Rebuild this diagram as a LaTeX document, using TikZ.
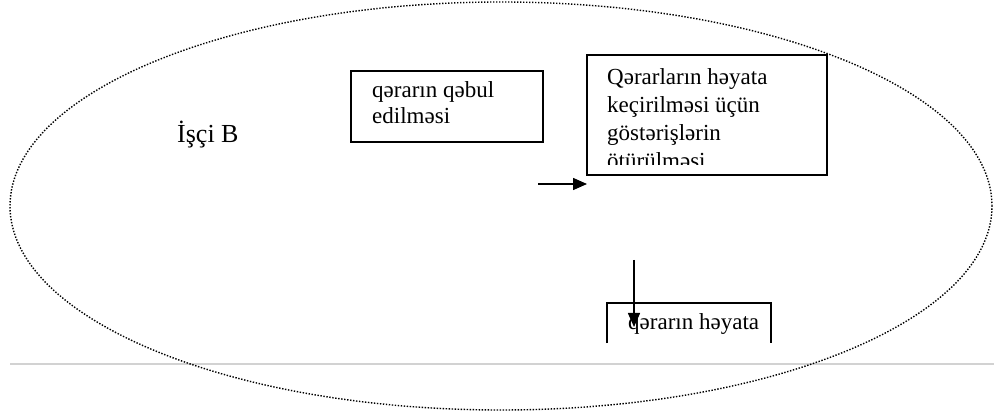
\documentclass[tikz,border=0pt]{standalone}
\usepackage{fontspec}
\setmainfont{Liberation Serif}
\usetikzlibrary{arrows.meta,shapes.geometric}
\begin{document}
\begin{tikzpicture}[x=1pt,y=-1pt,
  boxline/.style={draw=black,line width=1.5pt,inner sep=0pt},
  txt/.style={anchor=base west,inner sep=0pt,font=\fontsize{23}{27}\selectfont},
  arr/.style={line width=1.5pt,-{Triangle[length=14pt,width=12pt]}},
  dots/.style={draw=black,line width=1.4pt,dash pattern=on 1.4pt off 1.6pt}]
\useasboundingbox (0,0) rectangle (994,414);
% gray rule
\coordinate (g1) at (10,364);
\coordinate (g2) at (994,364);
\draw[gray!35,line width=1.6pt] (g1) -- (g2);
% ellipse
\node[dots,ellipse,minimum width=982pt,minimum height=408pt,inner sep=0pt] (org) at (501,206) {};
% label
\node[txt,font=\fontsize{26}{30}\selectfont] (lbl) at (177,143) {İşçi B};
% box 1
\node[boxline,minimum width=192pt,minimum height=71pt] (b1) at (447,106.5) {};
\node[txt] (b1l1) at (372,98) {qərarın qəbul};
\node[txt] (b1l2) at (372,124) {edilməsi};
% box 2
\node[boxline,minimum width=240pt,minimum height=120pt] (b2) at (707,115) {};
\begin{scope}
\clip (588,56) rectangle (826,165);
\node[txt] (b2l1) at (607,85) {Qərarların həyata};
\node[txt] (b2l2) at (607,113) {keçirilməsi üçün};
\node[txt] (b2l3) at (607,141) {göstərişlərin};
\node[txt] (b2l4) at (607,169) {ötürülməsi};
\end{scope}
% box 3 (open at bottom)
\coordinate (b3a) at (607,343);
\coordinate (b3b) at (607,303);
\coordinate (b3c) at (771,303);
\coordinate (b3d) at (771,343);
\draw[line width=1.5pt] (b3a) -- (b3b) -- (b3c) -- (b3d);
\begin{scope}
\clip (608,304) rectangle (770,343);
\node[txt] (b3l1) at (628,330) {qərarın həyata};
\end{scope}
% arrows
\coordinate (a1s) at (538,184);
\coordinate (a1e) at (587,184);
\draw[arr] (a1s) -- (a1e);
\coordinate (a2s) at (634,260);
\coordinate (a2e) at (634,327);
\draw[arr] (a2s) -- (a2e);
\end{tikzpicture}
\end{document}
